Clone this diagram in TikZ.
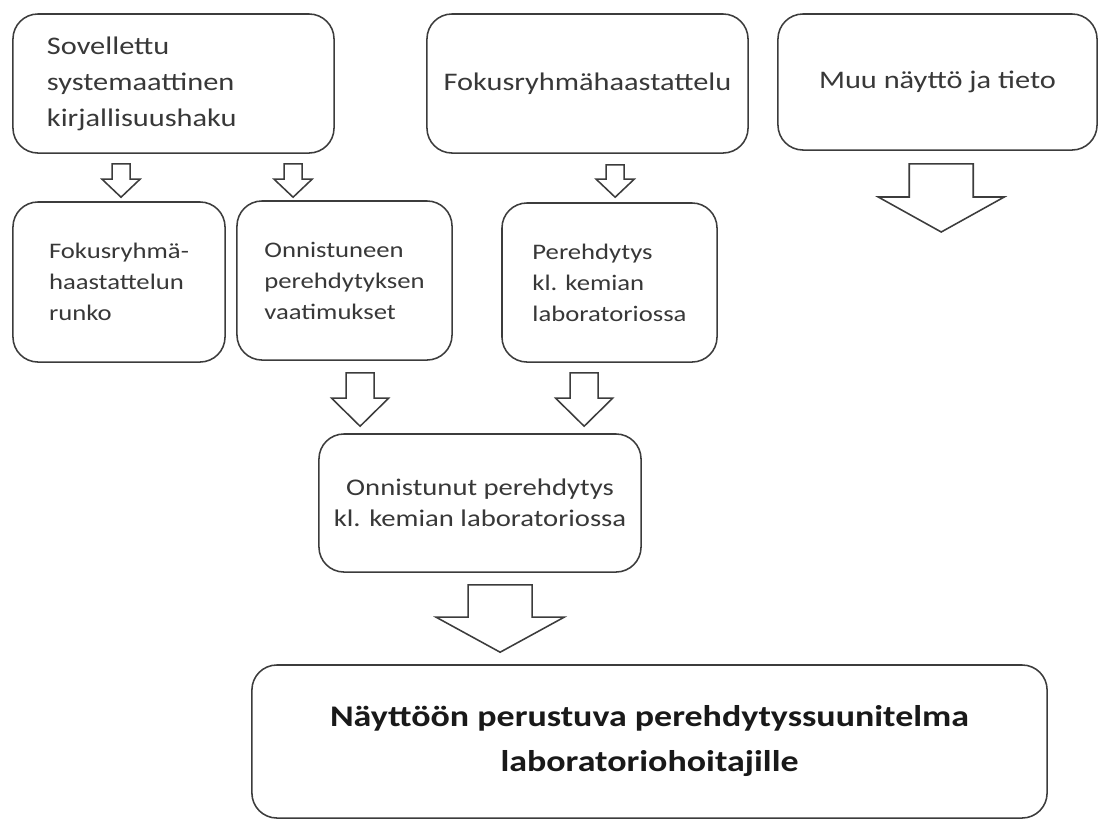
\documentclass[tikz,border=0pt]{standalone}
\usepackage{fontspec}
\setmainfont{Carlito}[FakeStretch=1.2]
\usetikzlibrary{calc}

\definecolor{boxline}{HTML}{3C3C3C}
\definecolor{boxtext}{HTML}{383838}

% one pixel of the layout grid
\def\px{0.71132pt}

% hollow block arrow: from anchor, to anchor, x, shaft half width,
% head half width, head length, top gap, tip gap (all in px)
\newcommand{\fatarrow}[8]{%
  \draw[fat] let \p1=(#1), \p2=(#2) in
    ({(#3-#4)*\px},{\y1-#7*\px}) -- ({(#3+#4)*\px},{\y1-#7*\px})
    -- ({(#3+#4)*\px},{\y2+(#8+#6)*\px}) -- ({(#3+#5)*\px},{\y2+(#8+#6)*\px})
    -- ({#3*\px},{\y2+#8*\px}) -- ({(#3-#5)*\px},{\y2+(#8+#6)*\px})
    -- ({(#3-#4)*\px},{\y2+(#8+#6)*\px}) -- cycle;}

\begin{document}
\begin{tikzpicture}[
    x=0.025cm, y=-0.025cm,
    box/.style={draw=boxline, line width=1.1pt, rounded corners=0.625cm,
        fill=white, text=boxtext, align=left, inner sep=0pt},
    big/.style={font=\fontsize{18}{25.6}\selectfont},
    small/.style={font=\fontsize{15.8}{22}\selectfont},
    fat/.style={draw=boxline, line width=1.1pt, fill=white, line join=miter}
]
    \useasboundingbox (0,0) rectangle (1098,824);

    % Sources (top row)
    \node[box, big, text width=6.325cm, inner xsep=0.85cm,
        minimum height=3.475cm] (haku) at (173.5,83.5)
        {Sovellettu\\systemaattinen\\kirjallisuushaku};
    \node[box, big, align=center, minimum width=8.025cm,
        minimum height=3.475cm] (fokus) at (587.5,83.5) {Fokusryhmähaastattelu};
    \node[box, big, align=center, minimum width=7.975cm,
        minimum height=3.4cm] (muu) at (937.5,82) {Muu näyttö ja tieto};

    % Intermediate results
    \node[box, small, minimum width=5.3cm, minimum height=4cm] (runko)
        at (119,282) {Fokusryhmä-\\haastattelun\\runko};
    \node[box, small, minimum width=5.375cm, minimum height=3.975cm] (vaatim)
        at (344.5,280.5) {Onnistuneen\\perehdytyksen\\vaatimukset};
    \node[box, small, minimum width=5.375cm, minimum height=3.975cm] (pereh)
        at (609.5,282.5) {Perehdytys\\kl. kemian\\laboratoriossa};

    \node[box, align=center, font=\fontsize{17}{22}\selectfont,
        minimum width=8.05cm, minimum height=3.45cm] (onnist) at (480,503)
        {Onnistunut perehdytys\\kl. kemian laboratoriossa};

    % Final plan
    \node[box, align=center, text=black!90,
        font=\bfseries\fontsize{21.3}{32}\selectfont,
        minimum width=19.875cm, minimum height=3.825cm] (suunn) at (649.5,741.5)
        {Näyttöön perustuva perehdytyssuunitelma\\laboratoriohoitajille};

    % open end of the arrow below Muu näyttö ja tieto
    \coordinate (muuEnd) at (941,232);

    % Block arrows
    \fatarrow{haku.south}{runko.north}{121}{9}{19}{18}{10}{4}
    \fatarrow{haku.south}{vaatim.north}{293}{9}{19}{18}{10}{3}
    \fatarrow{fokus.south}{pereh.north}{615}{9}{19}{18}{11}{5}
    \fatarrow{muu.south}{muuEnd}{941}{32}{63}{35}{13}{0}
    \fatarrow{vaatim.south}{onnist.north}{360}{14}{28.5}{28}{12}{7}
    \fatarrow{pereh.south}{onnist.north}{584}{14}{28.5}{28}{10}{7}
    \fatarrow{onnist.south}{suunn.north}{500}{32}{64}{35}{12}{12}

\end{tikzpicture}
\end{document}
